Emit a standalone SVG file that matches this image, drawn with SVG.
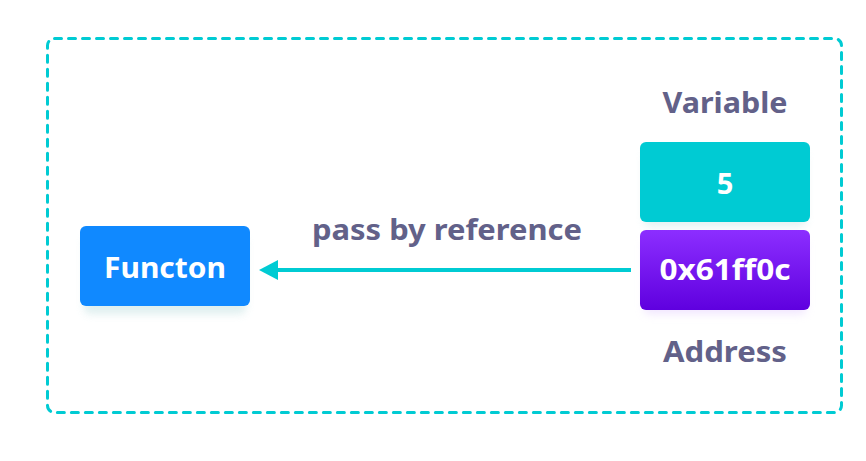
<svg xmlns="http://www.w3.org/2000/svg" width="866" height="461" viewBox="0 0 866 461">
<defs>
<style>
.lbl{font-family:"Noto Sans","Liberation Sans",sans-serif;font-weight:700;fill:#626189;text-anchor:middle}
.wt{font-family:"Noto Sans","Liberation Sans",sans-serif;font-weight:700;fill:#ffffff;text-anchor:middle}
</style>
<linearGradient id="pg" x1="0" y1="0" x2="0" y2="1">
<stop offset="0" stop-color="#8C2EFF"/>
<stop offset="1" stop-color="#5F00DF"/>
</linearGradient>
<filter id="sh" x="-20%" y="-20%" width="140%" height="160%">
<feGaussianBlur stdDeviation="4"/>
</filter>
</defs>
<rect width="866" height="461" fill="#ffffff"/>
<rect x="47.5" y="38.5" width="794" height="374" rx="7" fill="none" stroke="#00CBD3" stroke-width="3" stroke-dasharray="7 7" stroke-linecap="round"/>
<g id="connectors">
<line x1="631" y1="270" x2="276" y2="270" stroke="#00CBD3" stroke-width="4"/>
<path d="M259,270 L278,260 L278,280 Z" fill="#00CBD3"/>
<text class="lbl" x="447" y="240" font-size="29" textLength="270" lengthAdjust="spacingAndGlyphs">pass by reference</text>
</g>
<g id="function">
<rect x="84" y="236" width="162" height="78" rx="6" fill="#B8DCDC" opacity="0.45" filter="url(#sh)"/>
<rect x="80" y="226" width="170" height="80" rx="6" fill="#1089FF"/>
<text class="wt" x="165" y="278" font-size="29" textLength="122" lengthAdjust="spacingAndGlyphs">Functon</text>
</g>
<g id="variable">
<text class="lbl" x="725" y="113" font-size="29" textLength="125" lengthAdjust="spacingAndGlyphs">Variable</text>
<rect x="644" y="150" width="162" height="76" rx="6" fill="#B8DCDC" opacity="0.4" filter="url(#sh)"/>
<rect x="640" y="142" width="170" height="80" rx="6" fill="#00CBD3"/>
<text class="wt" x="725" y="194" font-size="29">5</text>
</g>
<g id="address">
<rect x="644" y="238" width="162" height="76" rx="6" fill="#E3CCFF" opacity="0.5" filter="url(#sh)"/>
<rect x="640" y="230" width="170" height="80" rx="6" fill="url(#pg)"/>
<text class="wt" x="725" y="280" font-size="29" textLength="131" lengthAdjust="spacingAndGlyphs">0x61ff0c</text>
<text class="lbl" x="725" y="362" font-size="29" textLength="124" lengthAdjust="spacingAndGlyphs">Address</text>
</g>
</svg>
